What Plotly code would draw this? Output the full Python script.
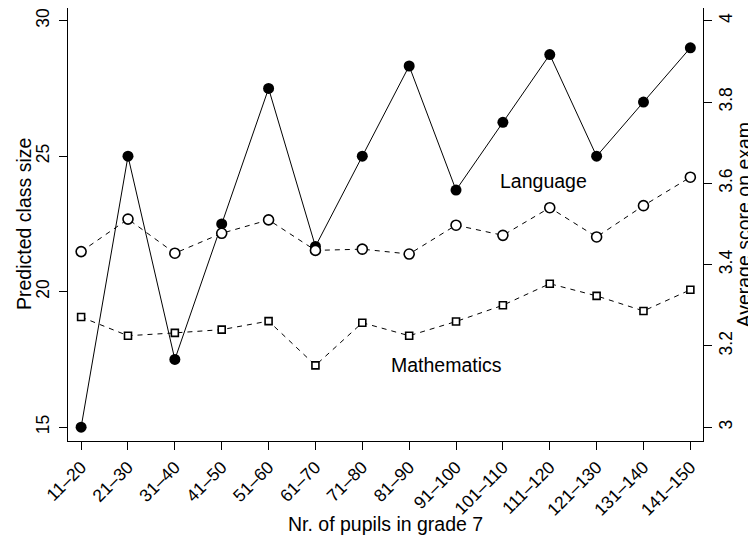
import plotly.graph_objects as go

categories = ["11\u201320", "21\u201330", "31\u201340", "41\u201350", "51\u201360", "61\u201370",
              "71\u201380", "81\u201390", "91\u2013100", "101\u2013110", "111\u2013120",
              "121\u2013130", "131\u2013140", "141\u2013150"]
class_size = [15, 25, 17.5, 22.5, 27.5, 21.67, 25, 28.33, 23.75, 26.25, 28.75, 25, 27, 29]
language = [3.432, 3.512, 3.428, 3.477, 3.510, 3.435, 3.438, 3.426, 3.497, 3.472,
            3.540, 3.468, 3.545, 3.615]
mathematics = [3.271, 3.225, 3.232, 3.240, 3.261, 3.152, 3.257, 3.225, 3.260, 3.300,
               3.353, 3.323, 3.286, 3.338]
left_ticks = [15, 20, 25, 30]
right_ticks = [3, 3.2, 3.4, 3.6, 3.8, 4]
right_tick_text = ["3", "3.2", "3.4", "3.6", "3.8", "4"]

FONT = "Liberation Sans, Arial, Helvetica, sans-serif"
FS = 19.5      # titles and in-plot labels
TFS = 17.5     # tick labels
idx = list(range(len(categories)))

fig = go.Figure()
fig.add_trace(go.Scatter(
    x=idx, y=language, yaxis="y2", mode="lines+markers",
    line=dict(color="black", width=1, dash="5px,5px"),
    marker=dict(symbol="circle", size=10, color="white", line=dict(color="black", width=1.6)),
    showlegend=False))
fig.add_trace(go.Scatter(
    x=idx, y=mathematics, yaxis="y2", mode="lines+markers",
    line=dict(color="black", width=1, dash="5px,5px"),
    marker=dict(symbol="square", size=7, color="white", line=dict(color="black", width=1.6)),
    showlegend=False))
fig.add_trace(go.Scatter(
    x=idx, y=class_size, yaxis="y", mode="lines+markers",
    line=dict(color="black", width=1),
    marker=dict(symbol="circle", size=11, color="black"),
    showlegend=False))

txt = dict(family=FONT, size=FS, color="black")
fig.add_annotation(x=9.86, y=24.08, xref="x", yref="y", text="Language", showarrow=False, font=txt)
fig.add_annotation(x=7.79, y=17.31, xref="x", yref="y", text="Mathematics", showarrow=False, font=txt)
# axis titles
fig.add_annotation(x=0.5, y=0, xref="paper", yref="paper", yshift=-82.5, xanchor="center",
                   yanchor="middle", text="Nr. of pupils in grade 7", showarrow=False, font=txt)
fig.add_annotation(x=0, y=0.5, xref="paper", yref="paper", xshift=-44.5, xanchor="center",
                   yanchor="middle", textangle=-90, text="Predicted class size",
                   showarrow=False, font=txt)
fig.add_annotation(x=1, y=0.5, xref="paper", yref="paper", xshift=40, xanchor="center",
                   yanchor="middle", textangle=-90, text="Average score on exam",
                   showarrow=False, font=txt, borderpad=0)

ymin, ymax = 14.49, 30.47
# The page body adds an 8px offset, so the figure is 8px smaller than the window.
fig.update_layout(
    width=748, height=535,
    margin=dict(l=59.5, r=52.5, t=0, b=101.5),
    paper_bgcolor="white", plot_bgcolor="white",
    font=dict(family=FONT, size=FS, color="black"),
    xaxis=dict(
        tickmode="array", tickvals=idx, ticktext=categories, tickangle=-45,
        range=[-0.28, 13.27], showgrid=False, zeroline=False,
        showline=True, mirror=True, linecolor="black", linewidth=1.3,
        ticks="outside", ticklen=8, tickwidth=1, tickcolor="black",
        tickfont=dict(family=FONT, size=TFS), automargin=False),
    yaxis=dict(
        range=[ymin, ymax], tickvals=left_ticks, tickangle=-90,
        showgrid=False, zeroline=False,
        showline=True, mirror=True, linecolor="black", linewidth=1.3,
        ticks="outside", ticklen=8, tickwidth=1, tickcolor="black",
        tickfont=dict(family=FONT, size=TFS), ticklabelstandoff=3, automargin=False),
    yaxis2=dict(
        range=[3 + (ymin - 15) / 15, 3 + (ymax - 15) / 15], overlaying="y", side="right",
        tickvals=right_ticks, ticktext=right_tick_text, tickangle=-90,
        showgrid=False, zeroline=False, showline=False,
        ticks="outside", ticklen=8, tickwidth=1, tickcolor="black",
        tickfont=dict(family=FONT, size=TFS), ticklabelstandoff=-1, automargin=False),
)

fig.write_html("out.html")
